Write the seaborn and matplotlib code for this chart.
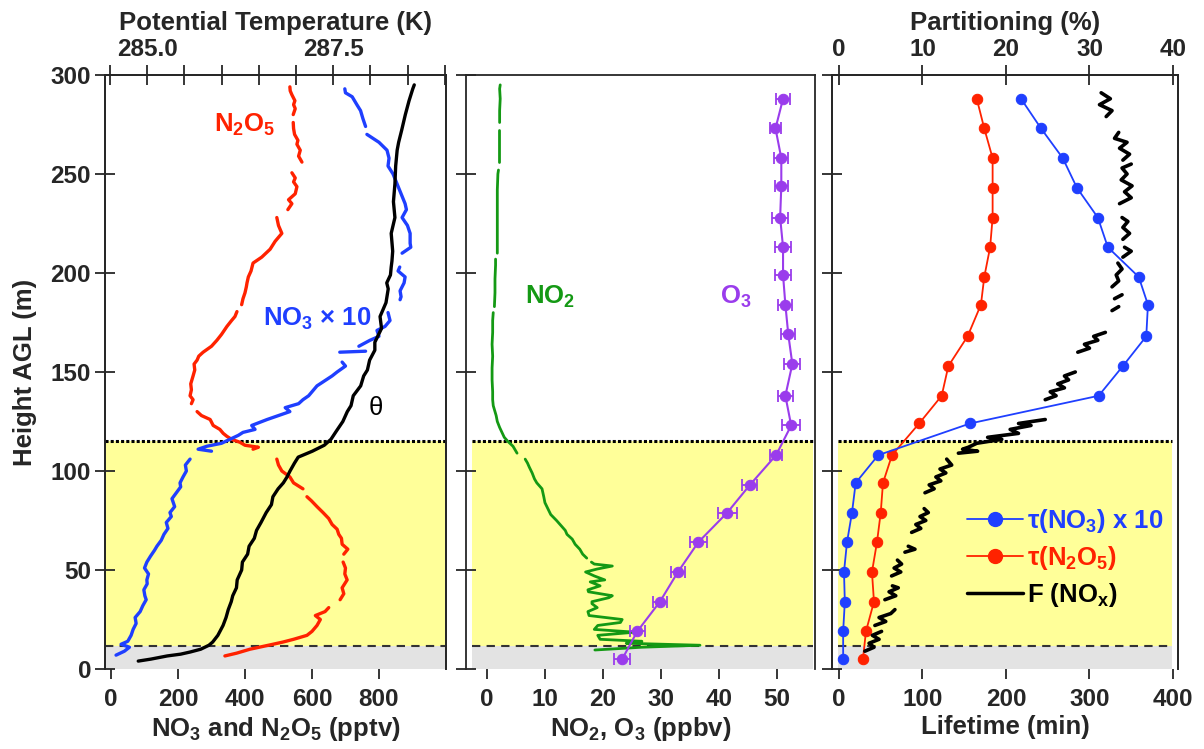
import numpy as np
import pandas as pd
import matplotlib
matplotlib.use("Agg")
import matplotlib.pyplot as plt
from matplotlib.lines import Line2D
import seaborn as sns

# ---- panel 1: NO3 x 10, N2O5 (pptv) and potential temperature (K) ----
theta_h = [4, 5, 6.6, 7.5, 8.6, 10, 12, 13.6, 17, 22, 26, 30, 34, 37, 41, 45, 50, 54, 58, 62,
           66, 70, 74, 79, 83, 87, 91, 94, 97, 100, 104, 107, 110, 113, 116, 120, 125, 130, 133,
           138, 143, 148, 151, 156, 161, 165, 172, 178, 185, 192, 195, 199, 203, 206, 211, 220,
           228, 236, 245, 254, 262, 266, 272, 280, 287, 293, 295]
theta_k = [284.88, 285.05, 285.27, 285.45, 285.58, 285.72, 285.83, 285.88, 285.95, 286.02,
           286.06, 286.09, 286.13, 286.15, 286.20, 286.21, 286.27, 286.28, 286.35, 286.37,
           286.44, 286.47, 286.53, 286.60, 286.67, 286.69, 286.76, 286.83, 286.88, 286.92,
           286.98, 287.03, 287.22, 287.38, 287.47, 287.54, 287.63, 287.69, 287.74, 287.77,
           287.87, 287.91, 287.96, 287.99, 288.06, 288.06, 288.15, 288.13, 288.21, 288.24,
           288.22, 288.27, 288.28, 288.29, 288.30, 288.28, 288.33, 288.31, 288.33, 288.34,
           288.36, 288.38, 288.42, 288.47, 288.52, 288.57, 288.59]

no3_h = [7, 9, 11, 12.5, 14, 17, 20, 23, 26, 29, 32, 35, 37, 40, 43, 45, 48, 51, 54, 57, 60,
         62, 65, 68, 71, 74, 77, 79, 82, 86, 89, 92, 94, 97, 100, 103, 106, 108,
         110, 111, 112.5, 114, 116, 118, 119.5, 121, 123, 126, 128, 130, 132, 134, 136, 138,
         140, 143, 145, 148, 150, 153, 155, 157,
         160, 160.5, 161,
         163, 166, 168, 171, 173, 176, 180, 182,
         186.5, 188, 191, 195, 198, 201, 203, 205,
         210, 213, 215, 220, 224, 228, 232, 235, 240, 245, 250, 254, 258, 262, 266, 270, 272,
         274, 278, 282, 285, 289, 291, 293]
no3_v = [15, 40, 55, 30, 50, 60, 66, 75, 72, 87, 95, 105, 101, 98, 108, 107, 112, 100, 107,
         118, 130, 137, 150, 158, 170, 165, 180, 176, 190, 182, 195, 208, 206, 215, 225, 222,
         236, np.nan,
         300, 260, 286, 330, 355, 380, 394, 430, 420, 466, 500, 534, 520, 560, 573, 590,
         600, 615, 633, 660, 675, 700, 690, np.nan,
         683, 760, np.nan,
         740, 773, 800, 794, 818, 833, 827, np.nan,
         863, 866, 863, 875, 878, 857, 862, np.nan,
         869, 895, 893, 893, 885, 869, 882, 878, 866, 854, 842, 827, 830, 824, 800, 764, np.nan,
         760, 752, 745, 734, 720, 700, 698]

n2o5_h = [6.6, 8, 10, 12, 13.6, 15, 17, 19, 22, 25, 27, 29, 31, 33,
          35, 38, 41, 45, 48, 51, 54, 56,
          58, 60.5, 63, 66, 68, 70.6, 73, 76, 79, 82, 85, 87, 89,
          91, 94, 97, 100, 103, 106, 108,
          111, 112, 113, 114.5, 116, 117.5, 119, 121, 123, 126, 128, 130, 132,
          134, 136, 138, 141, 144, 148, 151, 154, 156, 158, 160, 163, 166, 169, 171, 173, 176,
          178, 180.5, 182,
          184, 187, 190, 193, 195, 198, 201, 205, 208, 212, 216, 220, 224, 228, 230,
          232, 235, 237, 240, 243.6, 246, 248, 250.6, 253,
          256, 259, 262, 265, 267, 270, 273, 276, 278,
          280, 283, 285, 287, 290, 292, 294]
n2o5_v = [340, 375, 415, 470, 513, 545, 585, 600, 615, 625, 610, 639, 650, np.nan,
          684, 695, 690, 705, 698, 700, 693, np.nan,
          695, 707, 690, 688, 680, 675, 660, 650, 633, 615, 598, 585, np.nan,
          573, 545, 534, 510, 500, 495, np.nan,
          424, 440, 400, 385, 360, 346, 335, 325, 305, 296, 270, 257, np.nan,
          240, 245, 236, 240, 238, 245, 250, 248, 257, 262, 275, 300, 316, 330, 338, 346, 360,
          370, 376, np.nan,
          390, 394, 400, 404, 406, 410, 418, 424, 450, 475, 490, 510, 500, 495, np.nan,
          528, 540, 530, 550, 555, 545, 550, 540, np.nan,
          570, 560, 565, 555, 558, 548, 545, 544, np.nan,
          544, 550, 545, 549, 540, 535, 534]

# ---- panel 2: NO2 and O3 (ppbv) ----
no2_h = [9.6, 11, 12, 13, 14, 15, 17, 18.6, 20, 22, 23.5, 25, 27, 29, 31, 33, 34, 36, 37, 39,
         40, 42, 44, 45, 47, 49, 50.5, 52, 53, 54, 55,
         56, 58, 60.5, 63, 65.6, 68, 70, 72, 75, 78, 81, 84, 87, 91, 94, 96, 99, 102, 104, 106,
         107,
         109, 112.5, 115, 117, 119.5, 122, 125, 128, 130, 133, 136, 140, 146, 152, 158, 164,
         170, 176, 180, 181,
         183, 190, 197, 204, 207, 208,
         210, 218, 226, 235, 242, 250, 252, 254,
         256, 262, 268, 272, 274,
         276, 282, 288, 293, 295]
no2_v = [18.6, 26.7, 36.7, 24, 26.7, 19.5, 19.1, 25.5, 18.5, 19.1, 23, 23.3, 17.6, 17.4, 19,
         18.1, 18.1, 21, 21.6, 17.5, 17.4, 19.5, 17.8, 20.3, 18.5, 17, 19, 21.6, 18.5, 18,
         np.nan,
         17.2, 16.5, 16, 15.2, 14.7, 13.8, 13.5, 12.9, 12.0, 11.0, 10.5, 10.0, 9.8, 9.5, 8.6,
         8.2, 7.8, 7.3, 7.0, 6.6, np.nan,
         5.2, 4.5, 3.6, 3.0, 2.6, 2.2, 1.8, 1.6, 1.4, 1.1, 1.0, 1.0, 0.9, 0.9, 1.0, 0.9, 1.0,
         1.0, 1.1, np.nan,
         1.3, 1.4, 1.4, 1.5, 1.5, np.nan,
         1.8, 1.8, 1.8, 1.8, 1.8, 1.9, 2.0, np.nan,
         2.1, 2.1, 2.1, 2.1, np.nan,
         2.2, 2.2, 2.3, 2.2, 2.3]

o3_h = [5, 19, 34, 49, 64, 79, 93, 108, 123, 138, 154, 169, 184, 199, 213, 228, 244, 258, 273, 288]
o3_v = [23.3, 25.9, 29.8, 32.9, 36.4, 41.4, 45.3, 49.8, 52.4, 51.4, 52.6, 51.9, 51.4, 51.0,
        51.0, 50.5, 50.7, 50.7, 49.7, 51.0]
o3_err = [1.4, 1.3, 1.2, 1.2, 1.5, 1.6, 1.3, 1.1, 1.6, 1.3, 1.4, 1.2, 1.2, 1.3, 1.3, 1.4,
          1.1, 1.2, 1.0, 1.2]

# ---- panel 3: lifetimes (min) and NOx partitioning (%) ----
life_h = [5, 19, 34, 49, 64, 79, 94, 108, 124, 138, 153, 168, 184, 198, 213, 228, 243, 258, 273, 288]
tau_no3 = [5, 5, 7, 6, 9.6, 15.6, 20, 47, 157, 311, 340, 368, 370, 359, 322, 310, 285, 268, 242, 218]
tau_n2o5 = [28.7, 32.3, 41.9, 39.5, 45.5, 50, 52.7, 63.5, 96, 123, 131, 154, 170, 174, 181,
            184, 184, 184, 174, 165]

fnox_h = [9, 11, 13, 15, 17, 19, 20,
          22, 24, 26, 28, 30, 32,
          35, 37, 39, 41, 42, 44,
          47, 49, 51, 53, 55, 57,
          59, 60.5, 62, 64,
          69, 71, 73, 75, 77, 79, 81, 83,
          89, 91, 93, 95, 97, 99, 101, 103, 106, 107,
          109, 110, 111, 112, 114, 116, 117, 119, 121, 123, 124, 126, 128,
          136, 138, 140, 142, 144, 146, 148, 150, 152,
          160, 162, 164, 166, 168, 170, 172,
          181, 183, 185,
          187, 189, 191,
          193, 196, 199, 202, 205, 206,
          208, 211, 213, 215,
          217, 220, 223, 226, 228, 230,
          235, 238, 241, 244, 247, 250, 253, 255, 256,
          257, 260, 263, 266, 268, 271, 273,
          279, 282, 285, 288, 291]
fnox_v = [3.1, 4.2, 3.6, 4.8, 4.0, 5.1, np.nan,
          4.3, 5.6, 4.8, 6.2, 6.7, np.nan,
          5.5, 6.8, 6.0, 7.1, 6.4, np.nan,
          6.3, 7.4, 6.6, 7.5, 7.0, np.nan,
          7.9, 9.1, 8.3, np.nan,
          8.7, 9.8, 9.2, 10.4, 9.7, 10.7, 10.2, np.nan,
          10.3, 11.4, 10.8, 12.2, 11.6, 12.8, 12.1, 13.5, 12.9, np.nan,
          14.3, 16.6, 14.8, 15.5, 16.5, 19.5, 17.8, 21.5, 20.5, 23.0, 21.5, 24.7, np.nan,
          24.7, 26.0, 25.3, 27.0, 26.2, 27.5, 27.0, 28.3, np.nan,
          28.6, 30.0, 29.4, 31.0, 30.5, 31.9, np.nan,
          32.7, 33.5, np.nan,
          33.0, 33.9, np.nan,
          32.7, 33.5, 33.2, 33.9, 33.4, np.nan,
          34.0, 35.0, 34.2, np.nan,
          34.0, 34.8, 34.0, 34.6, 33.9, np.nan,
          33.6, 35.0, 34.2, 35.1, 33.8, 34.5, 33.9, 35.0, np.nan,
          34.0, 34.8, 33.6, 34.5, 33.0, 33.5, np.nan,
          32.0, 32.7, 31.2, 32.5, 31.4]

nbl_top = 115.2
surface_top = 11.6

RED = "#ff2200"
BLUE = "#1f3fff"
GREEN = "#149914"
PURPLE = "#9a3cec"
YELLOW = "#ffff99"
GREY = "#e3e3e3"

sns.set_style("ticks")
plt.rcParams["font.family"] = ["Liberation Sans", "DejaVu Sans"]
plt.rcParams["font.weight"] = "bold"
plt.rcParams["axes.labelweight"] = "bold"
plt.rcParams["mathtext.default"] = "regular"
plt.rcParams["axes.linewidth"] = 1.3
FS = 17.5    # tick labels
LS = 18.5    # axis labels
TS = 18.5    # in-panel text and legend


def trace(ax, h, v, color, lw):
    df = pd.DataFrame({"h": h, "v": v})
    df["seg"] = df["v"].isna().cumsum()
    df = df.dropna()
    sns.lineplot(data=df, x="v", y="h", units="seg", estimator=None, sort=False,
                 color=color, lw=lw, ax=ax, legend=False)


def layers(ax, x0=0.0, x1=1.0):
    ax.axhspan(surface_top, nbl_top, xmin=x0, xmax=x1, color=YELLOW, lw=0, zorder=0)
    ax.axhspan(0, surface_top, xmin=x0, xmax=x1, color=GREY, lw=0, zorder=0)
    ax.axhline(nbl_top, xmin=x0, xmax=x1, color="black", lw=2.2, ls=(0, (1, 0.7)), zorder=1)
    ax.axhline(surface_top, xmin=x0, xmax=x1, color="#333333", lw=1.5, ls=(0, (4, 3)), zorder=1)


def frame(ax, ylabels=False):
    ax.set_ylim(0, 300)
    ax.set_yticks(range(0, 301, 50))
    ax.spines["bottom"].set_visible(False)
    ax.tick_params(axis="y", direction="inout", length=14, width=1.3, labelsize=FS,
                   labelleft=ylabels, pad=3)
    ax.tick_params(axis="x", direction="out", length=7, width=1.3, labelsize=FS, pad=7)
    ax.set_ylabel("")


fig = plt.figure(figsize=(12.04, 7.49), dpi=100)
ax1 = fig.add_axes([0.0872, 0.1068, 0.2832, 0.7931])
ax2 = fig.add_axes([0.3870, 0.1068, 0.2899, 0.7931])
ax3 = fig.add_axes([0.6910, 0.1068, 0.2874, 0.7931])

# panel 1
layers(ax1)
trace(ax1, n2o5_h, n2o5_v, RED, 2.4)
trace(ax1, no3_h, no3_v, BLUE, 2.4)
ax1.set_xlim(-18, 1000)
ax1.set_xticks([0, 200, 400, 600, 800])
frame(ax1, ylabels=True)
ax1.set_xlabel("NO$_3$ and N$_2$O$_5$ (pptv)", fontsize=LS)
ax1.xaxis.set_label_coords(0.5, -0.078)
ax1.set_ylabel("Height AGL (m)", fontsize=LS)
ax1.yaxis.set_label_coords(-0.2, 0.5)
ax1.text(400, 275, "N$_2$O$_5$", color=RED, fontsize=TS, ha="center", va="center")
ax1.text(615, 177, "NO$_3$ × 10", color=BLUE, fontsize=TS, ha="center", va="center")
ax1.text(790, 132, "θ", color="black", fontsize=TS, ha="center", va="center",
         fontweight="normal")

ax1t = ax1.twiny()
trace(ax1t, theta_h, theta_k, "black", 2.4)
ax1t.set_xlim(284.433, 289.016)
ax1t.set_ylim(0, 300)
ax1t.set_xticks(np.arange(284.5, 289.01, 0.5))
ax1t.set_xticklabels(["285.0" if abs(t - 285.0) < 1e-6 else "287.5" if abs(t - 287.5) < 1e-6
                      else "" for t in np.arange(284.5, 289.01, 0.5)])
ax1t.tick_params(axis="x", direction="inout", length=14, width=1.3, labelsize=FS, pad=3)
ax1t.spines["bottom"].set_visible(False)
ax1t.set_xlabel("Potential Temperature (K)", fontsize=LS)
ax1t.xaxis.set_label_coords(0.5, 1.075)
ax1t.set_ylabel("")

# panel 2
layers(ax2, 0.017, 0.995)
trace(ax2, no2_h, no2_v, GREEN, 2.0)
ax2.errorbar(o3_v, o3_h, xerr=o3_err, fmt="none", ecolor=PURPLE, elinewidth=1.3,
             capsize=4, capthick=1.3, zorder=3)
sns.lineplot(x=o3_v, y=o3_h, estimator=None, sort=False, color=PURPLE, lw=1.5,
             marker="o", markersize=7.5, markeredgecolor=PURPLE, ax=ax2, zorder=4)
ax2.set_xlim(-3.6, 56.5)
ax2.set_xticks([0, 10, 20, 30, 40, 50])
frame(ax2)
ax2.set_xlabel("NO$_2$, O$_3$ (ppbv)", fontsize=LS)
ax2.xaxis.set_label_coords(0.5, -0.078)
ax2.text(10.9, 188, "NO$_2$", color=GREEN, fontsize=TS, ha="center", va="center")
ax2.text(42.8, 188, "O$_3$", color=PURPLE, fontsize=TS, ha="center", va="center")

# panel 3
layers(ax3, 0.017, 0.983)
sns.lineplot(x=tau_n2o5, y=life_h, estimator=None, sort=False, color=RED, lw=1.3,
             marker="o", markersize=7.5, markeredgecolor=RED, ax=ax3, zorder=4)
sns.lineplot(x=tau_no3, y=life_h, estimator=None, sort=False, color=BLUE, lw=1.3,
             marker="o", markersize=7.5, markeredgecolor=BLUE, ax=ax3, zorder=4)
ax3.set_xlim(-8.4, 406)
ax3.set_xticks([0, 100, 200, 300, 400])
frame(ax3)
ax3.set_xlabel("Lifetime (min)", fontsize=LS)
ax3.xaxis.set_label_coords(0.5, -0.078)

ax3t = ax3.twiny()
trace(ax3t, fnox_h, fnox_v, "black", 2.6)
ax3t.set_xlim(-0.84, 40.6)
ax3t.set_ylim(0, 300)
ax3t.set_xticks([0, 10, 20, 30, 40])
ax3t.tick_params(axis="x", direction="inout", length=14, width=1.3, labelsize=FS, pad=3)
ax3t.spines["bottom"].set_visible(False)
ax3t.set_xlabel("Partitioning (%)", fontsize=LS)
ax3t.xaxis.set_label_coords(0.5, 1.075)
ax3t.set_ylabel("")

handles = [
    Line2D([], [], color=BLUE, lw=1.3, marker="o", markersize=10),
    Line2D([], [], color=RED, lw=1.3, marker="o", markersize=10),
    Line2D([], [], color="black", lw=2.5),
]
labels = ["τ(NO$_3$) x 10", "τ(N$_2$O$_5$)", "F (NO$_x$)"]
ax3t.legend(handles, labels, loc="upper left", bbox_to_anchor=(0.39, 0.272), frameon=False,
            fontsize=TS, handlelength=2.2, handletextpad=0.15, labelspacing=0.35,
            borderpad=0, borderaxespad=0, labelcolor="linecolor")

fig.savefig("out.png", dpi=100)
